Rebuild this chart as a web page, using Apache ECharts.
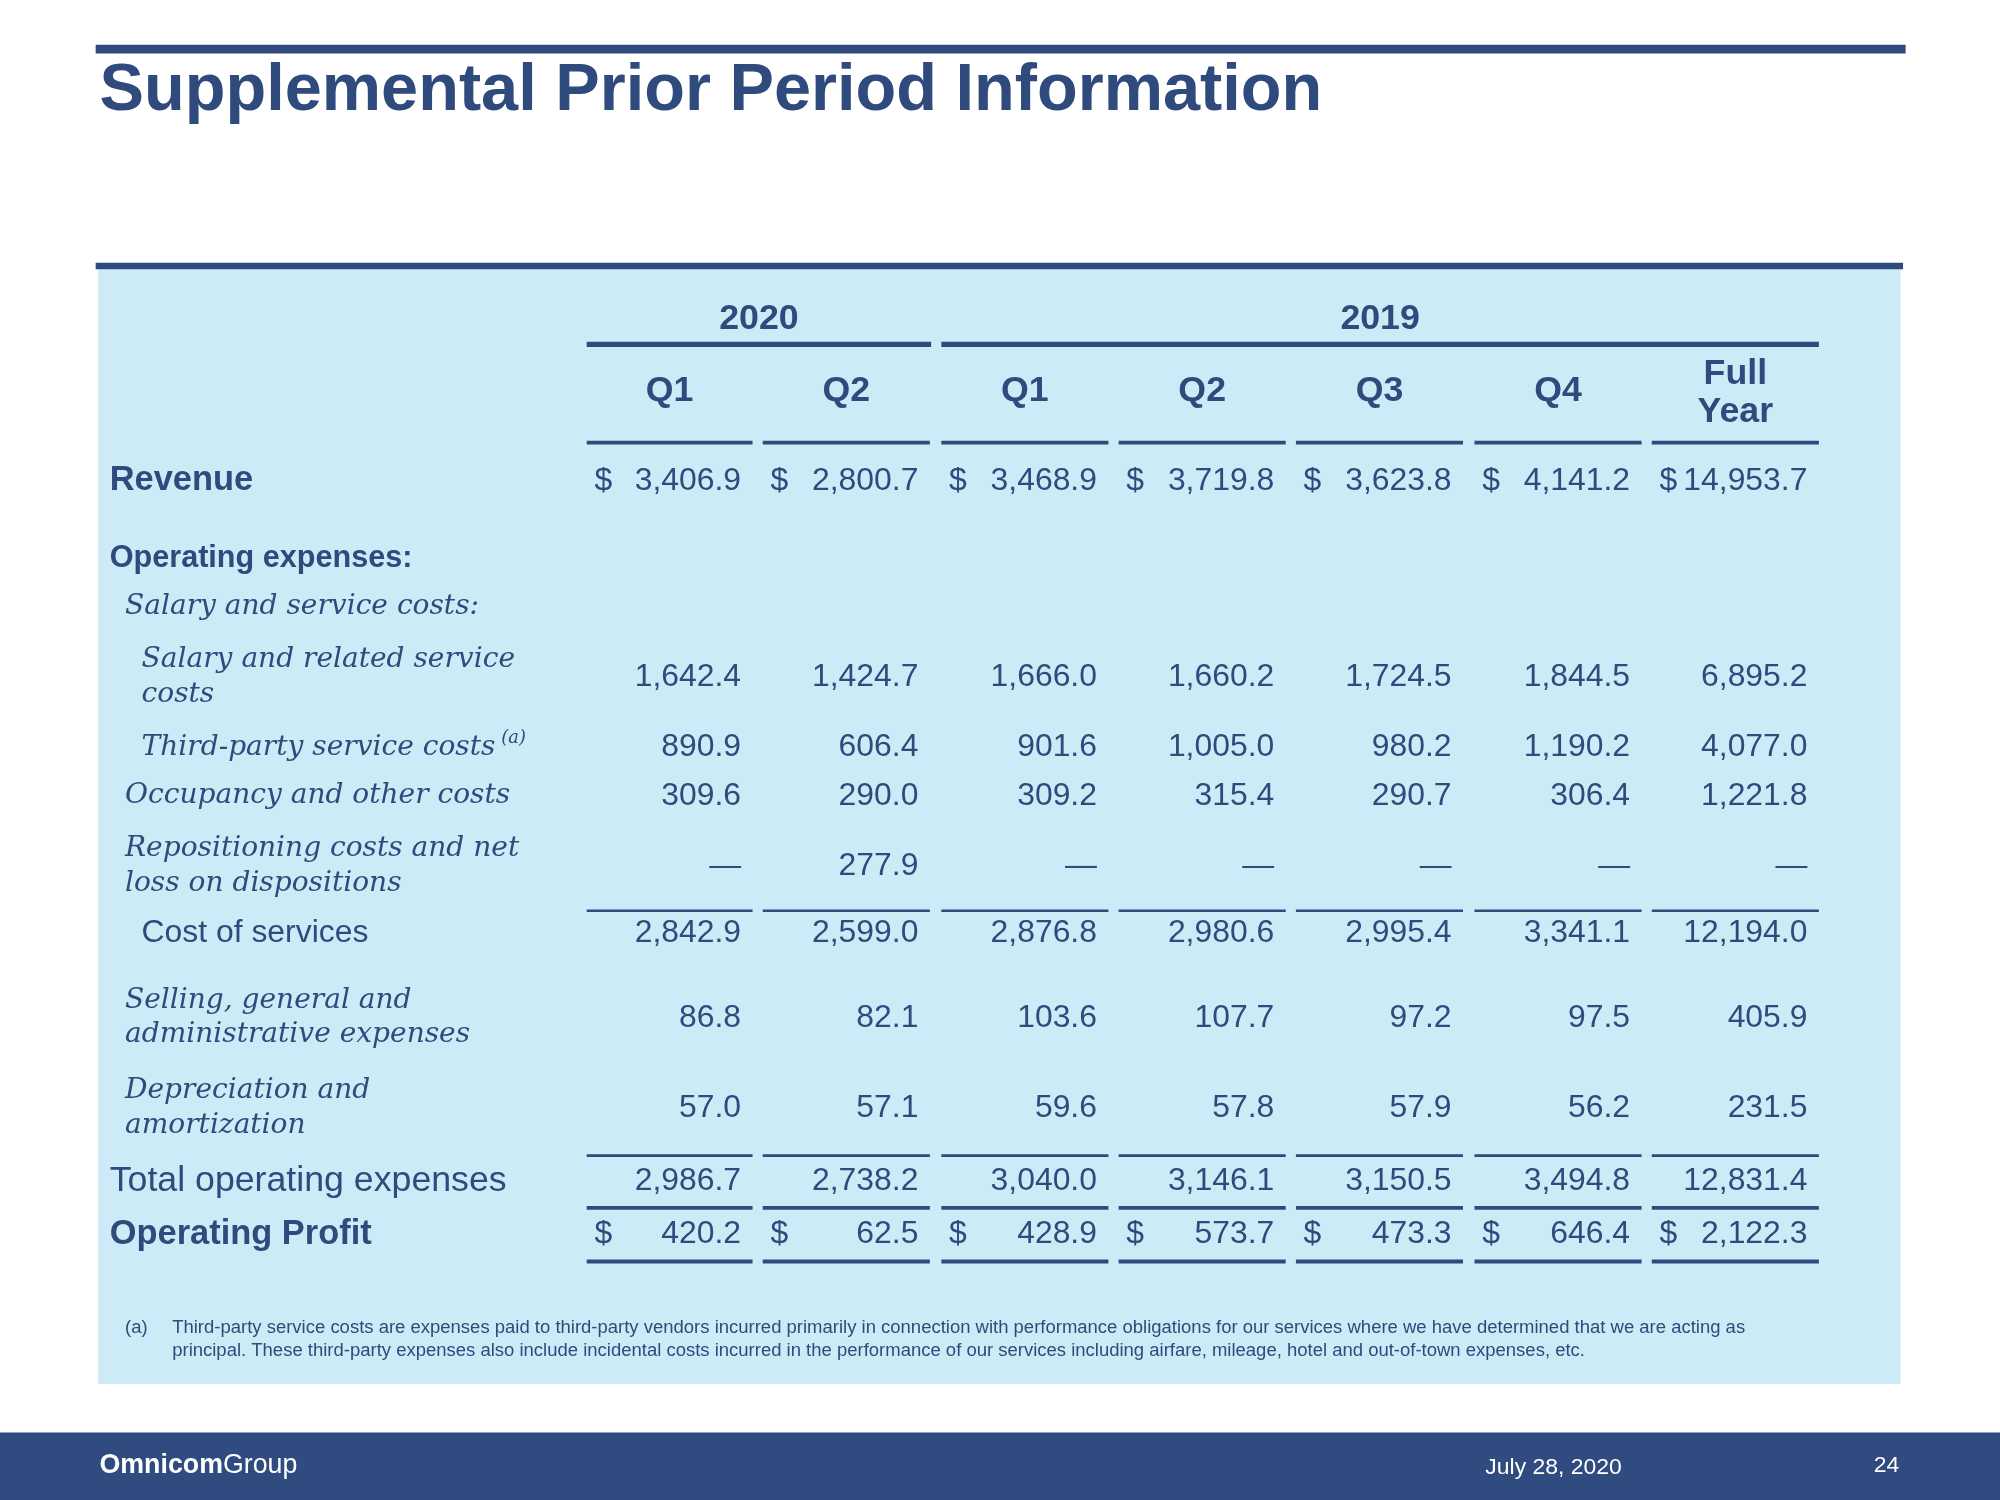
<!DOCTYPE html>
<html><head><meta charset="utf-8">
<script src="https://cdn.jsdelivr.net/npm/echarts@6/dist/echarts.min.js"></script>
<style>html,body{margin:0;padding:0;background:#fff}#c{width:2000px;height:1500px}</style>
</head><body><div id="c"></div>
<script>
const years = ["2020", "2019"];
const quarters = ["Q1", "Q2", "Q1", "Q2", "Q3", "Q4", "Full\nYear"];
const revenue = ["3,406.9", "2,800.7", "3,468.9", "3,719.8", "3,623.8", "4,141.2", "14,953.7"];
const salaryRelated = ["1,642.4", "1,424.7", "1,666.0", "1,660.2", "1,724.5", "1,844.5", "6,895.2"];
const thirdParty = ["890.9", "606.4", "901.6", "1,005.0", "980.2", "1,190.2", "4,077.0"];
const occupancy = ["309.6", "290.0", "309.2", "315.4", "290.7", "306.4", "1,221.8"];
const repositioning = ["—", "277.9", "—", "—", "—", "—", "—"];
const costOfServices = ["2,842.9", "2,599.0", "2,876.8", "2,980.6", "2,995.4", "3,341.1", "12,194.0"];
const sga = ["86.8", "82.1", "103.6", "107.7", "97.2", "97.5", "405.9"];
const depreciation = ["57.0", "57.1", "59.6", "57.8", "57.9", "56.2", "231.5"];
const totalOpex = ["2,986.7", "2,738.2", "3,040.0", "3,146.1", "3,150.5", "3,494.8", "12,831.4"];
const operatingProfit = ["420.2", "62.5", "428.9", "573.7", "473.3", "646.4", "2,122.3"];

const S = 2000 / 1568;
const C = '#2F4A7C';
const colL = [460, 598, 738, 877, 1016, 1156, 1295];
const colR = [590, 729, 869, 1008, 1147, 1287, 1426];
const rows = [
  {label: "Revenue", x: 86, y: 377, st: 'bold', vals: revenue, dollar: true},
  {label: "Operating expenses:", x: 86, y: 438, st: 'boldsm'},
  {label: "Salary and service costs:", x: 98, y: 476, st: 'it'},
  {label: "Salary and related service\ncosts", x: 111, y: 531, st: 'it', vals: salaryRelated},
  {label: "Third-party service costs", x: 111, y: 586, st: 'it', vals: thirdParty, sup: "(a)"},
  {label: "Occupancy and other costs", x: 98, y: 624, st: 'it', vals: occupancy},
  {label: "Repositioning costs and net\nloss on dispositions", x: 98, y: 679, st: 'it', vals: repositioning},
  {label: "Cost of services", x: 111, y: 732, st: 'sans', vals: costOfServices},
  {label: "Selling, general and\nadministrative expenses", x: 98, y: 798, st: 'it', vals: sga},
  {label: "Depreciation and\namortization", x: 98, y: 869, st: 'it', vals: depreciation},
  {label: "Total operating expenses", x: 86, y: 926, st: 'sansbig', vals: totalOpex},
  {label: "Operating Profit", x: 86, y: 968, st: 'bold', vals: operatingProfit, dollar: true}
];
const ruleYs = [[347, 3], [714, 2], [906, 2], [947, 3], [989, 3]];

function font(st) {
  if (st === 'bold') return 'bold ' + 27 * S + 'px "Liberation Sans"';
  if (st === 'boldsm') return 'bold ' + 24 * S + 'px "Liberation Sans"';
  if (st === 'it') return 'italic ' + 22 * S + 'px "DejaVu Serif"';
  if (st === 'sansbig') return 28 * S + 'px "Liberation Sans"';
  return 25 * S + 'px "Liberation Sans"';
}

function renderItem(params, api) {
  const P = (x, y) => api.coord([x, y]);
  const ch = [];
  const rect = (x1, y1, x2, y2, fill) => {
    const a = P(x1, y1), b = P(x2, y2);
    ch.push({type: 'rect', shape: {x: a[0], y: a[1], width: b[0] - a[0], height: b[1] - a[1]}, style: {fill}});
  };
  const text = (x, y, t, f, align, fill, lh) => {
    const p = P(x, y);
    const el = {type: 'text', x: p[0], y: p[1], style: {text: t, font: f, fill: fill || C, align: align || 'left', verticalAlign: 'middle', lineHeight: (lh || 27) * S}};
    ch.push(el);
    return el;
  };
  rect(77, 208, 1490, 1085, '#CCEBF7');
  rect(75, 206, 1492, 211, C);
  rect(75, 35, 1494, 42, C);
  text(78, 72, "Supplemental Prior Period Information", 'bold ' + 52.3 * S + 'px "Liberation Sans"');
  text(595, 250, years[0], 'bold ' + 28 * S + 'px "Liberation Sans"', 'center');
  text(1082, 250, years[1], 'bold ' + 28 * S + 'px "Liberation Sans"', 'center');
  rect(460, 268, 730, 272, C);
  rect(738, 268, 1426, 272, C);
  quarters.forEach((q, i) => {
    text((colL[i] + colR[i]) / 2, i === 6 ? 308 : 307, q, 'bold ' + 28 * S + 'px "Liberation Sans"', 'center', C, 30);
  });
  ruleYs.forEach(([y, h]) => {
    for (let i = 0; i < 7; i++) rect(colL[i], y - h / 2, colR[i], y + h / 2, C);
  });
  rows.forEach(r => {
    text(r.x, r.y, r.label, font(r.st));
    if (r.sup) text(393, r.y - 7, r.sup, 'italic ' + 14 * S + 'px "DejaVu Serif"');
    if (r.vals) r.vals.forEach((v, i) => {
      const f = 25 * S + 'px "Liberation Sans"';
      text(colR[i] - 9, r.y, v, f, 'right');
      if (r.dollar) text(colL[i] + 6, r.y, '$', f, 'left');
    });
  });
  text(98, 1041, "(a)", 14.5 * S + 'px "Liberation Sans"');
  text(135, 1050, "Third-party service costs are expenses paid to third-party vendors incurred primarily in connection with performance obligations for our services where we have determined that we are acting as\nprincipal. These third-party expenses also include incidental costs incurred in the performance of our services including airfare, mileage, hotel and out-of-town expenses, etc.", 14.5 * S + 'px "Liberation Sans"', 'left', C, 18);
  rect(0, 1123, 1568, 1176, '#2F4B7F');
  const p = P(78, 1149);
  ch.push({type: 'text', x: p[0], y: p[1], style: {text: '{a|Omnicom}{b|Group}', verticalAlign: 'middle', rich: {
    a: {font: 'bold ' + 21 * S + 'px "Liberation Sans"', fill: '#fff'},
    b: {font: 21 * S + 'px "Liberation Sans"', fill: '#fff'}}}});
  text(1218, 1151, "July 28, 2020", 18 * S + 'px "Liberation Sans"', 'center', '#fff');
  text(1489, 1149, "24", 18 * S + 'px "Liberation Sans"', 'right', '#fff');
  return {type: 'group', children: ch};
}

const chart = echarts.init(document.getElementById('c'));
chart.setOption({
  animation: false,
  grid: {left: 0, right: 0, top: 0, bottom: 0},
  xAxis: {type: 'value', min: 0, max: 1568, show: false},
  yAxis: {type: 'value', min: 0, max: 1176, inverse: true, show: false},
  series: [{type: 'custom', renderItem, data: [[0, 0]], clip: false}]
});
</script></body></html>
